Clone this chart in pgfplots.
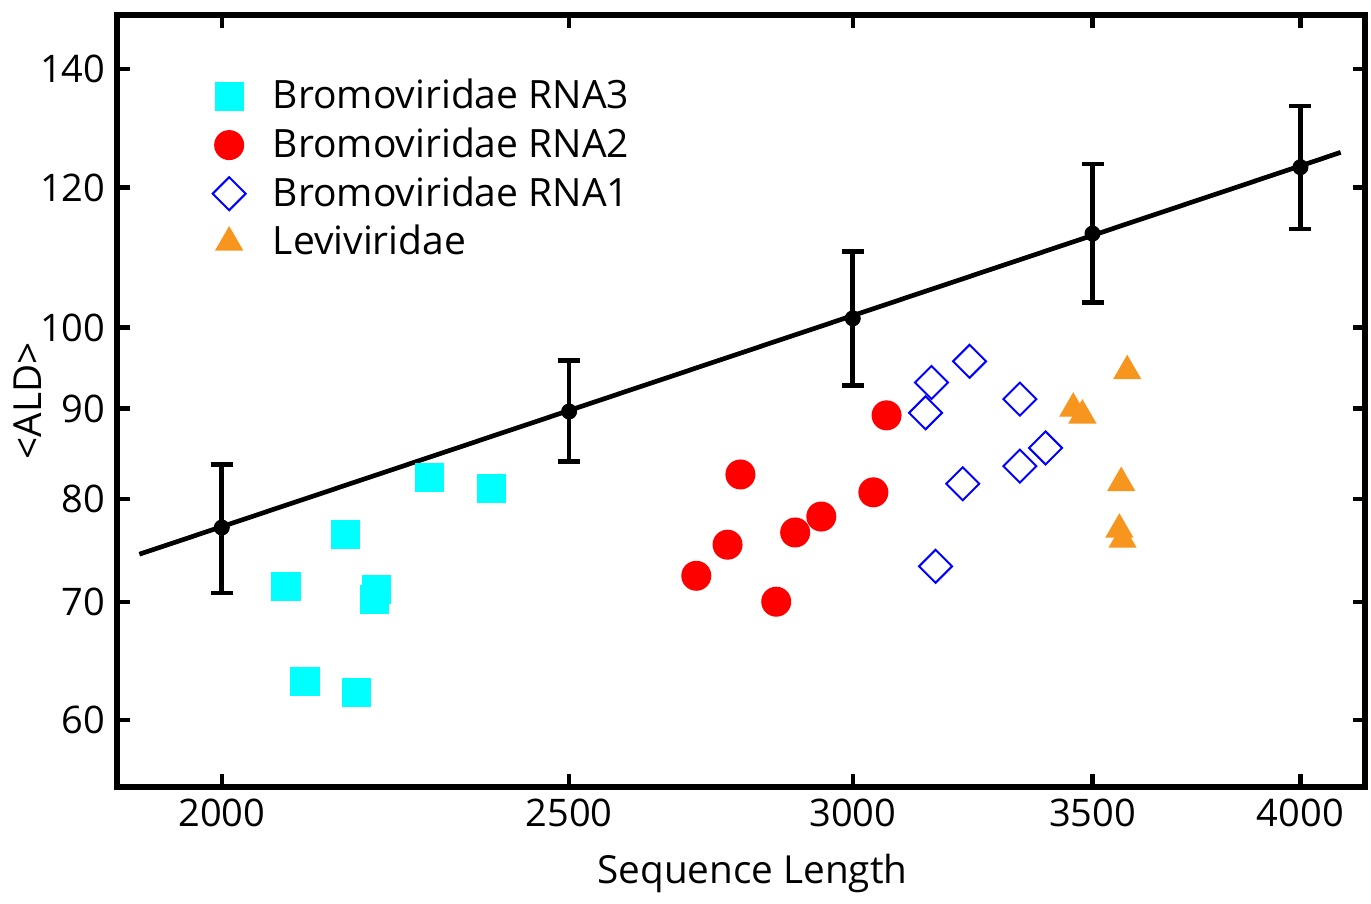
\documentclass[border=0pt]{standalone}
\usepackage{fontspec}
\setmainfont{Open Sans}
\usepackage{pgfplots}
\pgfplotsset{compat=1.18}
\definecolor{levi}{RGB}{247,150,30}
\definecolor{aqua}{RGB}{0,255,255}

\pgfplotstableread{
x y ep em
2000 77.1 6.6 6.3
2500 89.65 6.15 5.65
3000 101.2 9.2 8.5
3500 113.0 10.7 9.7
4000 123.2 10.2 9.5
}\meanald

\begin{document}
\begin{tikzpicture}
\begin{axis}[
  scale only axis,
  width=374.4pt, height=231.6pt,
  xmode=log, ymode=log,
  xmin=1870, xmax=4170, ymin=55, ymax=150.2,
  xtick={2000,2500,3000,3500,4000},
  xticklabels={2000,2500,3000,3500,4000},
  ytick={60,70,80,90,100,120,140},
  yticklabels={60,70,80,90,100,120,140},
  minor xtick={}, minor ytick={},
  tick align=inside,
  major tick length=3.8pt,
  every tick/.style={line width=1.3pt, black},
  axis line style={line width=1.6pt},
  tick label style={font=\fontsize{11.4}{13}\selectfont},
  label style={font=\fontsize{11.6}{13}\selectfont},
  xlabel={Sequence Length},
  ylabel={<ALD>},
  xlabel style={at={(axis description cs:0.509,-0.112)}, anchor=center},
  ylabel style={at={(axis description cs:-0.072,0.5)}, anchor=center},
  legend style={draw=none, fill=none, at={(axis description cs:0.068,0.935)},
    anchor=north west, font=\fontsize{11.7}{13}\selectfont, row sep=0.2pt},
  legend cell align=left,
  legend image code/.code={%
    \draw[mark repeat=2,mark phase=2,#1] plot coordinates {(0cm,0cm)(0.3cm,0cm)(0.6cm,0cm)};
    \path[draw=none, fill=none] (0.3cm,0cm) -- ++(11.1pt,0pt);},
]
\addplot[only marks, mark=square*, mark size=4.2pt, color=aqua, mark options={fill=aqua, draw=none}]
  coordinates {(2084,71.4)(2110,63.1)(2165,76.4)(2181,62.2)(2206,70.2)(2209,71.1)(2285,82.3)(2378,81.1)};
\addlegendentry{Bromoviridae RNA3}
\addplot[only marks, mark=*, mark size=4.3pt, color=red, mark options={fill=red, draw=none}]
  coordinates {(2713,72.4)(2768,75.4)(2791,82.6)(2856,70.0)(2891,76.6)(2940,78.2)(3040,80.7)(3066,89.2)};
\addlegendentry{Bromoviridae RNA2}
\addplot[only marks, mark=square, mark size=3.5pt, color=blue, mark options={rotate=45, line width=0.6pt}]
  coordinates {(3144,89.5)(3156,93.1)(3234,95.7)(3164,73.3)(3220,81.6)(3340,91.1)(3340,83.5)(3396,85.5)};
\addlegendentry{Bromoviridae RNA1}
\addplot[only marks, mark=triangle*, mark size=4.5pt, color=levi, mark options={fill=levi, draw=none}]
  coordinates {(3579,94.5)(3457,90.0)(3477,89.2)(3565,81.7)(3561,76.9)(3568,75.9)};
\addlegendentry{Leviviridae}
\addplot[black, line width=1.4pt, forget plot] coordinates {(1897,74.46)(4105,125.6)};
\addplot[black, only marks, mark=*, mark size=2.2pt, forget plot,
  error bars/.cd, y dir=both, y explicit,
  error bar style={line width=1.4pt}, error mark options={rotate=90, mark size=3.3pt, line width=1.4pt}]
  table[x=x, y=y, y error plus=ep, y error minus=em] {\meanald};
\end{axis}
\path (current axis.south west) ++(-35.1pt,-33.6pt) coordinate (bbsw);
\path (current axis.north east) ++(1.8pt,4.5pt) coordinate (bbne);
\path (bbsw) rectangle (bbne);
\end{tikzpicture}
\end{document}
